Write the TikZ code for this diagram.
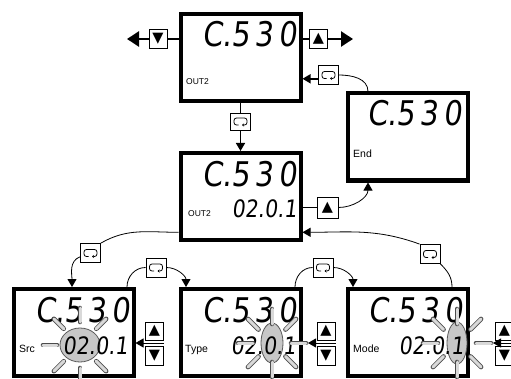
\documentclass[tikz,border=0pt]{standalone}
\usepackage{fontspec}
\setmainfont{Liberation Sans}
\newfontfamily\lcdfont[FakeSlant=0.12,FakeStretch=0.85]{DejaVu Sans}
\newfontfamily\symfont{DejaVu Sans}
\usetikzlibrary{arrows.meta}
\tikzstyle{disp}=[draw,line width=4pt,minimum width=120pt,minimum height=87pt,inner sep=0pt]
\tikzstyle{keybox}=[draw,fill=white,line width=0.8pt,minimum width=18pt,minimum height=19pt,inner sep=0pt,font=\symfont\fontsize{14.5}{14.5}\selectfont]
\tikzstyle{loopkey}=[keybox,minimum width=20pt,path picture={\draw[line width=0.8pt,rounded corners=2.5pt,-{Stealth[length=2pt,width=3pt]}] ([shift={(-2pt,-3.5pt)}]path picture bounding box.center) -- ++(-4.5pt,0) -- ++(0,7pt) -- ++(13pt,0) -- ++(0,-7pt) -- ++(-5pt,0);}]
\tikzstyle{bigd}=[font=\lcdfont\fontsize{34}{34}\selectfont,inner sep=0pt,anchor=base east]
\tikzstyle{smalld}=[font=\lcdfont\fontsize{24}{24}\selectfont,inner sep=0pt,anchor=base east]
\tikzstyle{lbl}=[font=\fontsize{10.5}{10.5}\selectfont,inner sep=0pt,anchor=base west]
\tikzstyle{lblsm}=[lbl,font=\fontsize{8.5}{8.5}\selectfont]
\tikzstyle{hilite}=[fill=black!22,draw=black!65,line width=0.8pt]
\tikzstyle{ray}=[draw=black!70,line width=0.8pt,double=black!15,double distance=3pt,line cap=round]
\tikzstyle{fat}=[line width=2.6pt]
\tikzstyle{link}=[line width=1.6pt]
\tikzstyle{flow}=[line width=0.8pt]
\tikzstyle{tip}=[-{Triangle[length=8pt,width=9pt]}]
\tikzstyle{bigtip}=[fat,-{Triangle[length=12pt,width=15pt]}]

\begin{document}
\begin{tikzpicture}[x=1pt,y=1pt]
\clip (0,0) rectangle (511,378);
% displays
\node[disp] (dtop) at (240.5,320.5) {};
\node[disp] (dend) at (407.5,241) {};
\node[disp] (dmid) at (240.5,181.5) {};
\node[disp] (dsrc) at (73.5,45.5) {};
\node[disp] (dtype) at (240.5,45.5) {};
\node[disp] (dmode) at (407.5,45.5) {};
% blinking digit
\coordinate (hsrc) at (80,33);
\coordinate (htype) at (272,35);
\coordinate (hmode) at (457,35);
\draw[hilite] (hsrc) ellipse [x radius=20,y radius=17];
\draw[hilite] (htype) ellipse [x radius=11,y radius=20];
\draw[hilite] (hmode) ellipse [x radius=10,y radius=21];
% display texts
\node[bigd] (ttop) at (297,331) {C.5\kern5pt3\kern5pt0};
\node[lblsm] (otop) at (186,293) {OUT2};
\node[bigd] (tend) at (462,252) {C.5\kern5pt3\kern5pt0};
\node[lbl] (oend) at (353,220) {End};
\node[bigd] (tmid) at (297,192) {C.5\kern5pt3\kern5pt0};
\node[smalld] (vmid) at (297,161) {02.0.1};
\node[lblsm] (omid) at (188,162) {OUT2};
\node[bigd] (tsrc) at (130,56) {C.5\kern5pt3\kern5pt0};
\node[smalld] (vsrc) at (128,24) {02.0.1};
\node[lbl] (osrc) at (19,26) {Src};
\node[bigd] (ttype) at (297,56) {C.5\kern5pt3\kern5pt0};
\node[smalld] (vtype) at (296,24) {02.0.1};
\node[lbl] (otype) at (185,26) {Type};
\node[bigd] (tmode) at (463,56) {C.5\kern5pt3\kern5pt0};
\node[smalld] (vmode) at (464,24) {02.0.1};
\node[lbl] (omode) at (353,26) {Mode};
% keys
\node[keybox] (kdn) at (158,339) {▼};
\node[keybox] (kup) at (318.5,339) {▲};
\coordinate (lft) at (127,339);
\coordinate (rgt) at (353,339);
\node[loopkey] (lk1) at (328.5,303) {};
\node[loopkey,minimum height=17pt] (lk2) at (240.5,256.5) {};
\node[keybox,minimum width=21pt,minimum height=21pt] (kup2) at (327.5,170.5) {▲};
\node[loopkey] (lk3) at (90.5,125) {};
\node[loopkey] (lk4) at (156,110.5) {};
\node[loopkey] (lk5) at (430,124) {};
\node[loopkey] (lk6) at (323,110.5) {};
\node[keybox,minimum height=18pt] (sup) at (154.5,47) {▲};
\node[keybox] (sdn) at (154.5,22) {▼};
\node[keybox,minimum height=18pt] (tup) at (326,47) {▲};
\node[keybox] (tdn) at (326,22) {▼};
\node[keybox,minimum height=18pt] (mup) at (504.5,47) {▲};
\node[keybox] (mdn) at (504.5,22) {▼};
\coordinate (sgap) at (164,35);
\coordinate (tgap) at (335.5,35);
\coordinate (mgap) at (514,35);
\coordinate (ttip) at (308,35);
\coordinate (mtip) at (493,35);
% connectors
\draw[bigtip] (kdn.west) -- (lft);
\draw[fat] (kdn.east) -- (kdn.east -| dtop.west);
\draw[fat] (kup.west) -- (kup.west -| dtop.east);
\draw[bigtip] (kup.east) -- (rgt);
\draw[link,tip] (lk1.200) -- (lk1.200 -| dtop.east);
\draw[flow] (lk1.east) to[out=0,in=90] ([xshift=-39.5pt]dend.north);
\draw[link] (dtop.south) -- (lk2.north);
\draw[link,tip] (lk2.south) -- (dmid.north);
\draw[link] (kup2.west) -- (kup2.west -| dmid.east);
\draw[flow,tip] (kup2.east) to[out=0,in=-90] ([xshift=-39.5pt]dend.south);
\draw[flow] (dmid.210) to[out=180,in=30] (lk3.north east);
\draw[flow,tip] (lk3.200) to[out=200,in=90] ([xshift=-1.5pt]dsrc.north);
\draw[flow] ([xshift=53.5pt]dsrc.north) to[out=90,in=180] (lk4.west);
\draw[flow,tip] (lk4.east) to[out=0,in=90] ([xshift=-54.5pt]dtype.north);
\draw[flow] ([xshift=54.5pt]dtype.north) to[out=90,in=180] (lk6.west);
\draw[flow,tip] (lk6.east) to[out=0,in=90] ([xshift=-54.5pt]dmode.north);
\draw[flow] ([xshift=44.5pt]dmode.north) to[out=90,in=-45] (lk5.south east);
\draw[flow,tip] (lk5.north west) to[out=160,in=0] (dmid.-30);
\draw[flow,tip] (sgap) -- (sgap -| dsrc.east);
\draw[flow,tip] (tgap) -- (ttip);
\draw[flow,tip] (mgap) -- (mtip);
% blinking rays
\foreach \a in {45,90,135,180,225,270,315}
  \draw[ray] (hsrc) ++(\a:23) -- ++(\a:14);
\foreach \a in {0,45,...,315}
  \draw[ray] (htype) ++(\a:19) -- ++(\a:15);
\foreach \a in {0,45,...,315}
  \draw[ray] (hmode) ++(\a:19) -- ++(\a:15);
\end{tikzpicture}
\end{document}
